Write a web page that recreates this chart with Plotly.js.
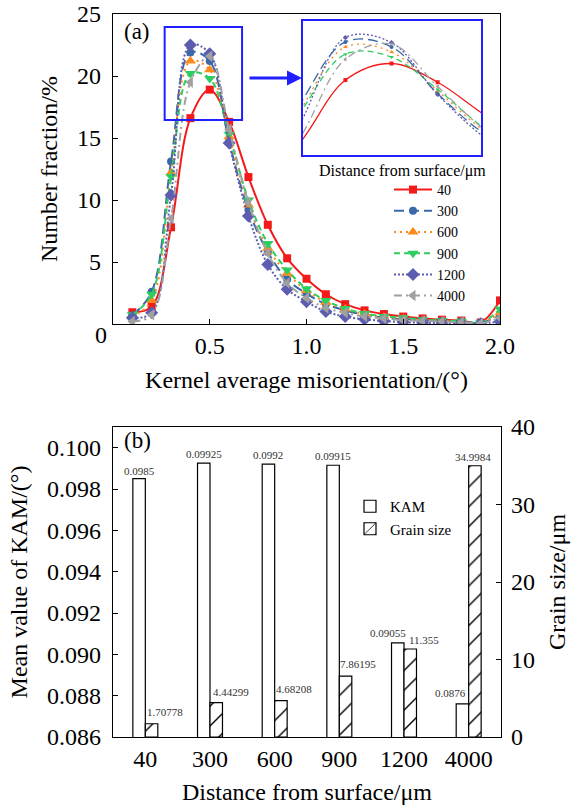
<!DOCTYPE html>
<html><head><meta charset="utf-8">
<script src="https://cdn.plot.ly/plotly-3.0.1.min.js"></script>
<style>html,body{margin:0;padding:0;background:#fff}#chart{width:577px;height:809px}</style>
</head><body><div id="chart"></div>
<script>
// ---- Panel (a): KAM distribution ----
const kamAngle = [0.1,0.2,0.3,0.4,0.5,0.6,0.7,0.8,0.9,1.0,1.1,1.2,1.3,1.4,1.5,1.6,1.7,1.8,1.9,2.0];
const frac40   = [0.95,1.4,7.8,16.6,18.9,16.3,11.85,8.0,5.3,3.65,2.4,1.6,1.1,0.8,0.6,0.45,0.35,0.28,0.12,1.9];
const frac300  = [0.7,2.6,13.1,21.9,21.2,14.7,9.2,5.8,3.6,2.45,1.6,1.1,0.75,0.5,0.4,0.3,0.25,0.2,0.1,0.7];
const frac600  = [0.6,1.9,12.2,21.2,20.5,15.1,9.6,6.1,4.1,2.7,1.75,1.2,0.8,0.55,0.42,0.3,0.25,0.2,0.1,0.9];
const frac900  = [0.75,2.4,11.9,20.2,19.8,15.3,10.0,6.5,4.35,2.85,1.9,1.25,0.85,0.6,0.5,0.35,0.28,0.22,0.1,1.2];
const frac1200 = [0.5,0.9,10.4,22.5,21.8,14.6,8.7,4.8,2.8,1.8,1.0,0.6,0.38,0.25,0.15,0.1,0.08,0.05,0.03,0.2];
const frac4000 = [0.2,0.75,8.5,19.5,21.6,15.7,9.8,5.7,3.3,2.1,1.3,0.9,0.6,0.45,0.3,0.25,0.2,0.15,0.05,0.5];
const seriesNames = ['40','300','600','900','1200','4000'];
const seriesValues = [frac40, frac300, frac600, frac900, frac1200, frac4000];

// ---- Panel (b): mean KAM and grain size ----
const distances = ['40','300','600','900','1200','4000'];
const kamMean   = [0.0985,0.09925,0.0992,0.09915,0.09055,0.0876];
const grainSize = [1.70778,4.44299,4.68208,7.86195,11.355,34.9984];
const kamTicks  = [0.086,0.088,0.090,0.092,0.094,0.096,0.098,0.100];

// ---- styles ----
const FONT = 'Liberation Serif, Times New Roman, serif';
const seriesStyle = [
  {color:'#f51a1a', dash:'solid', symbol:'square', size:8},
  {color:'#3a68a8', dash:'10px,5px', symbol:'circle', size:8},
  {color:'#ff8a1c', dash:'2px,4px', symbol:'triangle-up', size:10},
  {color:'#2fcc60', dash:'6px,4px', symbol:'triangle-down', size:10},
  {color:'#5c5cb0', dash:'2px,2px', symbol:'diamond', size:10},
  {color:'#a0a0a0', dash:'8px,4px,2px,4px', symbol:'triangle-left', size:10}
];
const barW = 0.193;
const pxPerCat = 388/6;
const kamLabelDx = [0,0,0,0,-10,-12], kamLabelDy = [0,1,1,1,2,3];
const grainLabelDx = [13,15,13,12,14,-2], grainLabelDy = [4,3,4,4,1,1];

const traces = [];
seriesValues.forEach((vals, i) => {
  const st = seriesStyle[i];
  traces.push({
    type:'scatter', mode:'lines+markers', x:kamAngle, y:vals, name:seriesNames[i],
    xaxis:'x', yaxis:'y', legend:'legend',
    line:{color:st.color, dash:st.dash, width:2, shape:'spline', smoothing:1},
    marker:{color:st.color, symbol:st.symbol, size:st.size}
  });
});
seriesValues.forEach((vals, i) => {
  const st = seriesStyle[i];
  traces.push({
    type:'scatter', mode:'lines+markers', x:kamAngle, y:vals, name:seriesNames[i],
    xaxis:'x2', yaxis:'y2', showlegend:false, hoverinfo:'skip',
    line:{color:st.color, dash:st.dash, width:1.3, shape:'spline', smoothing:1},
    marker:{color:st.color, symbol:st.symbol, size:4}
  });
});
traces.push({
  type:'bar', x:distances, y:kamMean, name:'KAM', xaxis:'x3', yaxis:'y3', legend:'legend2',
  width:barW, offset:-barW,
  marker:{color:'white', line:{color:'black', width:1.2}}
});
traces.push({
  type:'bar', x:distances, y:grainSize, name:'Grain size', xaxis:'x3', yaxis:'y4', legend:'legend2',
  width:barW, offset:0,
  marker:{color:'white', line:{color:'black', width:1.2},
          pattern:{shape:'/', fgcolor:'black', bgcolor:'white', size:14, solidity:0.1}}
});

const annotations = [
  {text:'(a)', xref:'paper', yref:'paper', x:122/577, y:1-31/809, xanchor:'left', yanchor:'middle', showarrow:false, font:{size:23}},
  {text:'(b)', xref:'paper', yref:'paper', x:122/577, y:1-440/809, xanchor:'left', yanchor:'middle', showarrow:false, font:{size:23}},
  {text:'0', xref:'paper', yref:'paper', x:109/577, y:1-335/809, xanchor:'right', yanchor:'middle', showarrow:false, font:{size:24}},
  {text:'Distance from surface/μm', xref:'paper', yref:'paper', x:402/577, y:1-171/809, xanchor:'center', yanchor:'middle', showarrow:false, font:{size:16}},
  {text:'', xref:'paper', yref:'paper', x:302/577, y:1-78/809, ax:-54, ay:0, showarrow:true, arrowhead:2, arrowsize:1, arrowwidth:3, arrowcolor:'#1f1fff', standoff:0}
];
distances.forEach((d, i) => {
  annotations.push({text:String(kamMean[i]), xref:'x3', yref:'y3', x:i, y:kamMean[i], xanchor:'center', yanchor:'bottom',
    xshift:-barW/2*pxPerCat + kamLabelDx[i], yshift:kamLabelDy[i], showarrow:false, font:{size:11, color:'#333'}});
  annotations.push({text:String(grainSize[i]), xref:'x3', yref:'y4', x:i, y:grainSize[i], xanchor:'center', yanchor:'bottom',
    xshift:barW/2*pxPerCat + grainLabelDx[i], yshift:grainLabelDy[i], showarrow:false, font:{size:11, color:'#333'}});
});

const axBase = {showline:true, mirror:true, linecolor:'black', linewidth:1.3, showgrid:false, zeroline:false,
  ticks:'inside', ticklen:5, tickcolor:'black', tickfont:{size:24}};
const insetAx = {showline:true, mirror:true, linecolor:'#1f1fff', linewidth:2, showgrid:false, zeroline:false,
  ticks:'', showticklabels:false};

const layout = {
  width:577, height:809, margin:{l:0,r:0,t:0,b:0},
  paper_bgcolor:'white', plot_bgcolor:'white',
  font:{family:FONT, size:22, color:'black'},
  xaxis:Object.assign({}, axBase, {domain:[113/577,500/577], anchor:'y', range:[0,2],
    tickvals:[0.5,1,1.5,2], ticktext:['0.5','1.0','1.5','2.0'],
    title:{text:'Kernel average misorientation/(°)', font:{size:24}, standoff:13}}),
  yaxis:Object.assign({}, axBase, {domain:[1-324/809,1-14/809], anchor:'x', range:[0,25],
    tickvals:[5,10,15,20,25], ticklabelstandoff:6,
    title:{text:'Number fraction/%', font:{size:24}, standoff:12}}),
  xaxis2:Object.assign({}, insetAx, {domain:[303/577,481/577], anchor:'y2', range:[0.308,0.694]}),
  yaxis2:Object.assign({}, insetAx, {domain:[1-155/809,1-21/809], anchor:'x2', range:[6.2,24.8]}),
  xaxis3:Object.assign({}, axBase, {domain:[113/577,501/577], anchor:'y3', type:'category',
    categoryorder:'array', categoryarray:distances, range:[-0.5,5.5], ticks:'',
    title:{text:'Distance from surface/μm', font:{size:24}, standoff:12}}),
  yaxis3:Object.assign({}, axBase, {domain:[1-737/809,1-427/809], anchor:'x3', range:[0.086,0.101],
    tickvals:kamTicks, tickformat:'.3f', ticklabelstandoff:6,
    title:{text:'Mean value of KAM/(°)', font:{size:24}, standoff:12}}),
  yaxis4:Object.assign({}, axBase, {overlaying:'y3', side:'right', anchor:'x3', range:[0,40], dtick:10,
    mirror:false, ticklabelstandoff:4,
    title:{text:'Grain size/μm', font:{size:24}, standoff:14}}),
  barmode:'overlay',
  legend:{x:389/577, xanchor:'left', y:1-174/809, yanchor:'top', font:{size:14}, itemwidth:38,
    bgcolor:'rgba(0,0,0,0)', tracegroupgap:0, borderwidth:0},
  legend2:{x:350/577, xanchor:'left', y:1-490/809, yanchor:'top', font:{size:15}, itemwidth:30,
    bgcolor:'rgba(0,0,0,0)', tracegroupgap:0, borderwidth:0},
  shapes:[{type:'rect', xref:'x', yref:'y', x0:0.267, x1:0.667, y0:16.45, y1:23.95,
    line:{color:'#1f1fff', width:2}, fillcolor:'rgba(0,0,0,0)'}],
  annotations:annotations
};

Plotly.newPlot('chart', traces, layout, {displayModeBar:false, staticPlot:true});
</script></body></html>
